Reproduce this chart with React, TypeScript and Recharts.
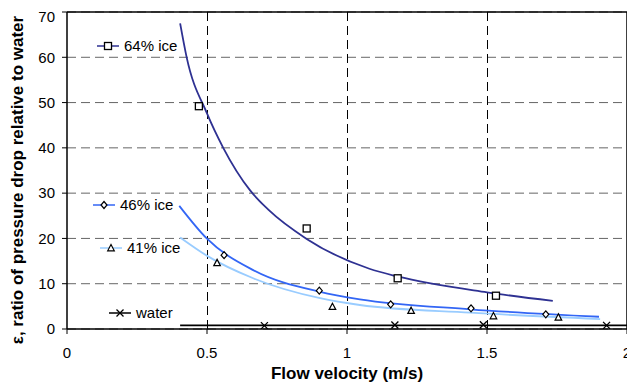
import React from "react";
import {
  ComposedChart,
  Line,
  Scatter,
  XAxis,
  YAxis,
  CartesianGrid,
  ReferenceLine,
} from "recharts";

// trend curves
const curve64X = [0.404, 0.427, 0.5, 0.558, 0.654, 0.72, 0.856, 1.08, 1.18, 1.5, 1.735];
const curve64Y = [67.5, 60.1, 47.6, 40.0, 30.6, 26.3, 19.9, 13.3, 11.6, 8.1, 6.2];
const curve46X = [0.401, 0.499, 0.665, 0.904, 1.046, 1.44, 1.9];
const curve46Y = [27.2, 20.0, 13.0, 8.2, 6.55, 4.35, 2.7];
const curve41X = [0.404, 0.499, 0.665, 0.904, 1.046, 1.44, 1.904];
const curve41Y = [20.2, 16.2, 11.2, 6.8, 5.3, 3.6, 2.2];
const waterLineX = [0.404, 2.0];
const waterLineY = [0.8, 0.8];

// measured points
const pts64X = [0.471, 0.856, 1.181, 1.532];
const pts64Y = [49.2, 22.2, 11.2, 7.35];
const pts46X = [0.561, 0.901, 1.156, 1.443, 1.71];
const pts46Y = [16.3, 8.46, 5.45, 4.56, 3.24];
const pts41X = [0.536, 0.948, 1.229, 1.523, 1.755];
const pts41Y = [14.6, 4.93, 4.05, 2.87, 2.58];
const ptsWaterX = [0.705, 1.171, 1.487, 1.927];
const ptsWaterY = [0.75, 0.9, 0.95, 0.8];

const xTicks = [0, 0.5, 1, 1.5, 2];
const yTicks = [0, 10, 20, 30, 40, 50, 60, 70];
const xGrid = [0.5, 1, 1.5];

const C64 = "#2E3192";
const C46 = "#3366F5";
const C41 = "#99CCFF";

const zip = (xs: number[], ys: number[]) => xs.map((x, i) => ({ x, y: ys[i] }));

const FONT = "'Liberation Sans', Arial, sans-serif";

const Square = ({ cx, cy }: any) => (
  <rect x={cx - 3.5} y={cy - 3.5} width={7} height={7} fill="#fff" stroke="#000" strokeWidth={1.3} />
);
const Diamond = ({ cx, cy }: any) => (
  <path d={`M${cx},${cy - 3.5}L${cx + 3},${cy}L${cx},${cy + 3.5}L${cx - 3},${cy}Z`} fill="#fff" stroke="#000" strokeWidth={1.2} />
);
const Triangle = ({ cx, cy }: any) => (
  <path d={`M${cx},${cy - 3.5}L${cx + 3.3},${cy + 2.8}L${cx - 3.3},${cy + 2.8}Z`} fill="#fff" stroke="#000" strokeWidth={1.2} />
);
const Cross = ({ cx, cy }: any) => (
  <path d={`M${cx - 3.5},${cy - 3.5}L${cx + 3.5},${cy + 3.5}M${cx + 3.5},${cy - 3.5}L${cx - 3.5},${cy + 3.5}`} stroke="#000" strokeWidth={1.3} />
);

function LegendItem({ left, top, color, label, symbol }: any) {
  return (
    <div style={{ position: "absolute", left, top, display: "flex", alignItems: "center", fontFamily: FONT, fontSize: 15, lineHeight: "17px", color: "#000", whiteSpace: "nowrap" }}>
      <svg width={22} height={10} style={{ marginRight: 5 }}>
        <line x1={0} y1={5} x2={22} y2={5} stroke={color} strokeWidth={1.5} />
        {symbol({ cx: 11, cy: 5 })}
      </svg>
      <span>{label}</span>
    </div>
  );
}

const YLabel = () => (
  <text
    x={9}
    y={172}
    transform="rotate(-90 9 172)"
    textAnchor="middle"
    dominantBaseline="central"
    fill="#000"
    fontSize={17}
    fontWeight="bold"
    fontFamily={FONT}
  >
    ε, ratio of pressure drop relative to water
  </text>
);

export default function App() {
  return (
    <div style={{ position: "relative", width: 627, height: 382 }}>
      <ComposedChart width={627} height={382} margin={{ top: 4, right: 8, left: 0, bottom: 0 }}>
        <CartesianGrid horizontal={true} vertical={false} stroke="#666" strokeDasharray="9 5" />
        {xGrid.map((v) => (
          <ReferenceLine key={v} x={v} stroke="#000" strokeDasharray="9 5" shapeRendering="crispEdges" />
        ))}
        <XAxis
          type="number"
          dataKey="x"
          domain={[0, 2]}
          ticks={xTicks}
          height={61}
          tickSize={5}
          tickMargin={13}
          axisLine={{ stroke: "#000", strokeWidth: 1.5 }}
          tickLine={{ stroke: "#000" }}
          tick={{ fill: "#000", fontSize: 15, fontFamily: FONT }}
          label={{ value: "Flow velocity (m/s)", position: "insideBottom", offset: 11, fill: "#000", fontSize: 17, fontWeight: "bold", fontFamily: FONT }}
          allowDataOverflow
        />
        <YAxis
          type="number"
          dataKey="y"
          domain={[0, 70]}
          ticks={yTicks}
          width={59}
          tickSize={5}
          tickMargin={7}
          axisLine={{ stroke: "#000", strokeWidth: 1.5 }}
          tickLine={{ stroke: "#000" }}
          tick={{ fill: "#000", fontSize: 15, fontFamily: FONT }}
          label={{ content: YLabel }}
          allowDataOverflow
        />
        <ReferenceLine y={70} stroke="#000" strokeWidth={1.5} />
        <ReferenceLine x={2} stroke="#000" strokeWidth={1.5} />
        <Line data={zip(curve64X, curve64Y)} dataKey="y" type="monotone" stroke={C64} strokeWidth={1.8} dot={false} isAnimationActive={false} />
        <Line data={zip(curve46X, curve46Y)} dataKey="y" type="monotone" stroke={C46} strokeWidth={1.8} dot={false} isAnimationActive={false} />
        <Line data={zip(curve41X, curve41Y)} dataKey="y" type="monotone" stroke={C41} strokeWidth={1.8} dot={false} isAnimationActive={false} />
        <Line data={zip(waterLineX, waterLineY)} dataKey="y" type="linear" stroke="#000" strokeWidth={1.8} dot={false} isAnimationActive={false} />
        <Scatter data={zip(pts64X, pts64Y)} dataKey="y" shape={Square} isAnimationActive={false} />
        <Scatter data={zip(pts46X, pts46Y)} dataKey="y" shape={Diamond} isAnimationActive={false} />
        <Scatter data={zip(pts41X, pts41Y)} dataKey="y" shape={Triangle} isAnimationActive={false} />
        <Scatter data={zip(ptsWaterX, ptsWaterY)} dataKey="y" shape={Cross} isAnimationActive={false} />
      </ComposedChart>
      <LegendItem left={89} top={29} color={C64} label="64% ice" symbol={Square} />
      <LegendItem left={85} top={188} color={C46} label="46% ice" symbol={Diamond} />
      <LegendItem left={92} top={231} color={C41} label="41% ice" symbol={Triangle} />
      <LegendItem left={101} top={296} color="#000" label="water" symbol={Cross} />
    </div>
  );
}
